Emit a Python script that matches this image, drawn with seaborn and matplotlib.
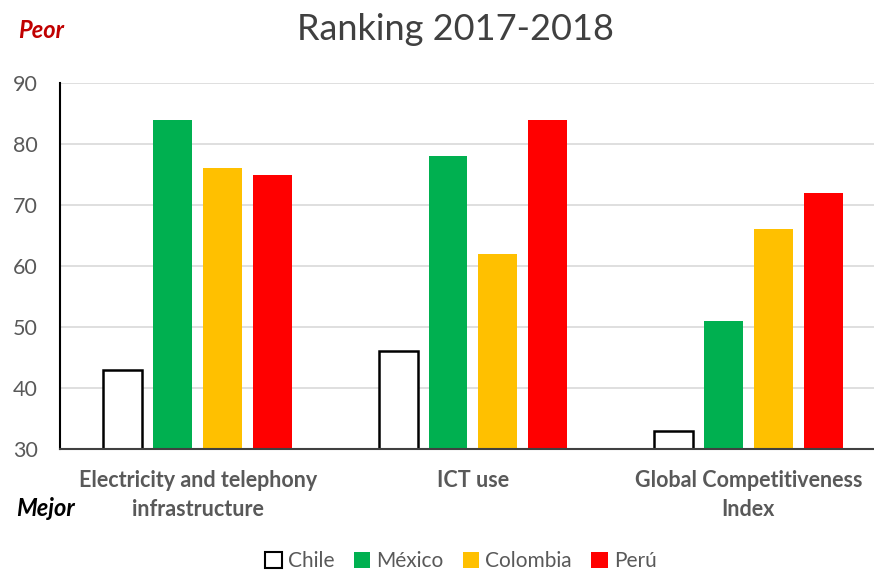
import matplotlib
matplotlib.use("Agg")
import matplotlib.pyplot as plt
import seaborn as sns
import pandas as pd

categories = ["Electricity and telephony\ninfrastructure", "ICT use", "Global Competitiveness\nIndex"]
countries = ["Chile", "México", "Colombia", "Perú"]
chile = [43, 46, 33]
mexico = [84, 78, 51]
colombia = [76, 62, 66]
peru = [75, 84, 72]
colors = ["#FFFFFF", "#00B050", "#FFC000", "#FF0000"]
yticks = [30, 40, 50, 60, 70, 80, 90]

rows = []
for c, vals in zip(countries, [chile, mexico, colombia, peru]):
    for cat, v in zip(categories, vals):
        rows.append({"cat": cat, "country": c, "value": v - 30})
df = pd.DataFrame(rows)

sns.set_theme(style="white")
plt.rcParams['font.family'] = ['Lato', 'DejaVu Sans']

fig = plt.figure(figsize=(8.74, 5.71), dpi=100)
ax = fig.add_axes([60/874, 1-449/571, (874-60)/874, (449-83)/571])

sns.barplot(data=df, x="cat", y="value", hue="country", order=categories,
            hue_order=countries, palette=colors, width=0.726, gap=0.22,
            saturation=1, ax=ax, legend=True, linewidth=0, edgecolor="none")

# Chile bars outline
for p in ax.containers[0]:
    p.set_edgecolor("black")
    p.set_linewidth(1.8)

ax.set_ylim(0, 60)
ax.set_yticks([t - 30 for t in yticks])
ax.set_yticklabels([str(t) for t in yticks], fontsize=15.5, color="#595959")
ax.set_xlim(-0.5, 2.5 - 12/275.5)
ax.set_xlabel("")
ax.set_ylabel("")
ax.tick_params(axis="x", length=0, pad=15)
ax.tick_params(axis="y", length=0, pad=16)
for lab in ax.get_xticklabels():
    lab.set_fontsize(15.5)
    lab.set_fontweight("bold")
    lab.set_color("#595959")
    lab.set_linespacing(1.5)
ax.yaxis.grid(True, color="#D9D9D9", linewidth=1.2)
ax.set_axisbelow(True)
for s in ["top", "right"]:
    ax.spines[s].set_visible(False)
ax.spines["left"].set_color("black")
ax.spines["left"].set_linewidth(1.5)
ax.spines["bottom"].set_color("#404040")
ax.spines["bottom"].set_linewidth(1.5)

fig.text(455/874, 1-30/571, "Ranking 2017-2018", ha="center", va="center",
         fontsize=26, color="#404040")
fig.text(18/874, 1-30/571, "Peor", ha="left", va="center", fontsize=17,
         fontweight="bold", fontstyle="italic", color="#C00000")
fig.text(16/874, 1-508/571, "Mejor", ha="left", va="center", fontsize=17,
         fontweight="bold", fontstyle="italic", color="black")

handles, labels = ax.get_legend_handles_labels()
ax.get_legend().remove()
for h, c in zip(handles, colors):
    h.set_facecolor(c)
    if c == "#FFFFFF":
        h.set_edgecolor("black")
        h.set_linewidth(1.5)
leg = fig.legend(handles, labels, loc="center", bbox_to_anchor=(461/874, 1-561/571),
                 ncol=4, frameon=False, fontsize=15, handlelength=0.8,
                 handleheight=0.8, handletextpad=0.3, columnspacing=0.9)
for t in leg.get_texts():
    t.set_color("#595959")

fig.savefig("out.png", dpi=100)
